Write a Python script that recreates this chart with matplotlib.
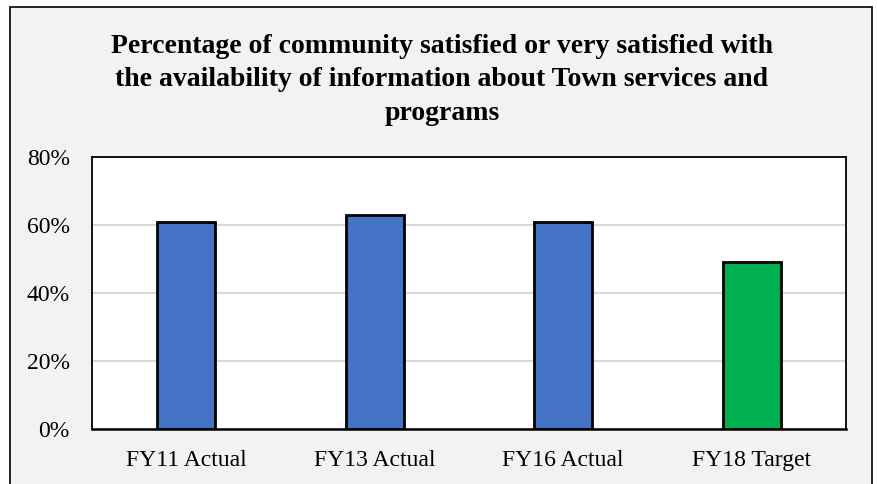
import matplotlib.pyplot as plt
from matplotlib.patches import Rectangle
from matplotlib.ticker import PercentFormatter

categories = ['FY11 Actual', 'FY13 Actual', 'FY16 Actual', 'FY18 Target']
values = [61, 63, 61, 49]
colors = ['#4472c4', '#4472c4', '#4472c4', '#00b050']
yticks = [0, 20, 40, 60, 80]

plt.rcParams['font.family'] = ['Liberation Serif', 'DejaVu Serif']

W, H = 877, 484
fig = plt.figure(figsize=(W / 100, H / 100), dpi=100)
fig.patch.set_facecolor('white')

# grey chart area with a thin frame (bottom edge runs off the image)
frame = Rectangle((10 / W, -0.05), (872 - 10) / W, (H - 7) / H + 0.05,
                  transform=fig.transFigure, facecolor='#f2f2f2',
                  edgecolor='black', linewidth=1.2, zorder=-1)
fig.patches.append(frame)

ax = fig.add_axes([92 / W, (H - 429) / H, (846 - 92) / W, (429 - 157) / H])
ax.set_facecolor('white')

x = range(len(categories))
ax.bar(x, values, width=0.31, color=colors, edgecolor='black', linewidth=2, zorder=3)

ax.set_ylim(0, 80)
ax.set_xlim(-0.5, len(categories) - 0.5)
ax.set_yticks(yticks)
ax.yaxis.set_major_formatter(PercentFormatter(decimals=0))
ax.set_xticks(list(x))
ax.set_xticklabels(categories)
ax.tick_params(axis='both', length=0, labelsize=17, colors='black')
ax.tick_params(axis='y', pad=16)
ax.tick_params(axis='x', pad=15)
ax.grid(axis='y', color='#d9d9d9', linewidth=1.5, zorder=0)
for s in ax.spines.values():
    s.set_color('black')
    s.set_linewidth(1.3)
ax.spines['bottom'].set_linewidth(1.8)

fig.text(442 / W, 1 - 80 / H,
         'Percentage of community satisfied or very satisfied with\n'
         'the availability of information about Town services and\n'
         'programs',
         ha='center', va='center', fontsize=20, fontweight='bold',
         linespacing=1.45)

fig.savefig('out.png', dpi=100)
